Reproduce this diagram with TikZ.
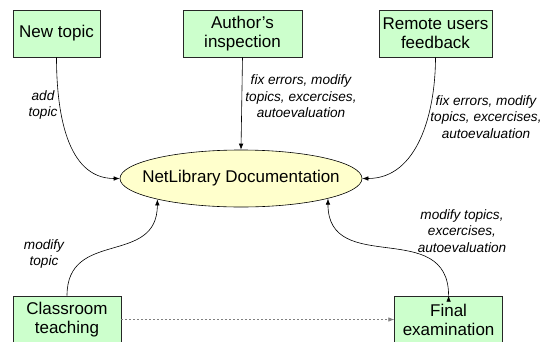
\documentclass[tikz,border=0pt]{standalone}
\usepackage{fontspec}
\setmainfont{Liberation Sans}
\usetikzlibrary{positioning, shapes.geometric, arrows.meta}

\definecolor{boxgreen}{HTML}{CCFFCC}
\definecolor{docyellow}{HTML}{FFFFCC}

\tikzset{
    stage/.style={draw=black!85, fill=boxgreen, align=center, inner sep=2pt, line width=0.6pt,
        minimum height=47pt, font=\fontsize{17}{19}\selectfont},
    doc/.style={draw, ellipse, fill=docyellow, inner sep=0pt, line width=0.6pt,
        minimum width=242pt, minimum height=57pt, font=\fontsize{17}{19}\selectfont},
    note/.style={align=center, inner sep=0pt, font=\fontsize{13.6}{16.5}\selectfont\itshape},
    flow/.style={-{Latex[length=6pt,width=4.5pt]}, line width=0.6pt},
    hint/.style={-{Latex[length=6pt,width=4.5pt]}, line width=0.6pt, gray, dash pattern=on 2pt off 2pt}
}

\begin{document}
\begin{tikzpicture}[x=1pt, y=-1pt]
   \clip (0,0) rectangle (550,341);
   % Documentation in the middle
   \node[doc] (netlib) at (241,178.5) {\makebox[0pt]{NetLibrary Documentation}};
   % Sources on top
   \node[stage, minimum width=87pt] (newtopic) at (56.5,33.5) {New topic};
   \node[stage, minimum width=119pt] (author) at (242.5,33.5) {Author's\\inspection};
   \node[stage, minimum width=113pt] (remote) at (435.5,33.5) {Remote users\\feedback};
   % Sources at the bottom
   \node[stage, minimum width=108pt] (classroom) at (67,319.5) {Classroom\\teaching};
   \node[stage, minimum width=108pt, right = 273pt of classroom] (final) {Final\\examination};
   % Labels
   \node[note] (addtopic) at (43,105) {add\\topic};
   \node[note] (authfix) at (301,96.5) {fix errors, modify\\topics, excercises,\\autoevaluation};
   \node[note] (remotefix) at (486,117) {fix errors, modify\\topics, excercises,\\autoevaluation};
   \node[note] (modtopic) at (44,254) {modify\\topic};
   \node[note] (finalmod) at (462,231) {modify topics,\\excercises,\\autoevaluation};
   % Connect the sources with the documentation
        \draw[flow]
            (newtopic.south) edge[out=-90, in=180] (netlib.west)
            (author.south) edge (netlib.north)
            (remote.south) edge[out=-90, in=0] (netlib.east)
            (classroom.north) edge[out=90, in=-90, looseness=1.3] (netlib.194)
            (final.north) edge[out=90, in=-90, looseness=1.3] (netlib.347)
           ;
   \draw[hint] (classroom.east) -- (final.west);

\end{tikzpicture}
\end{document}
